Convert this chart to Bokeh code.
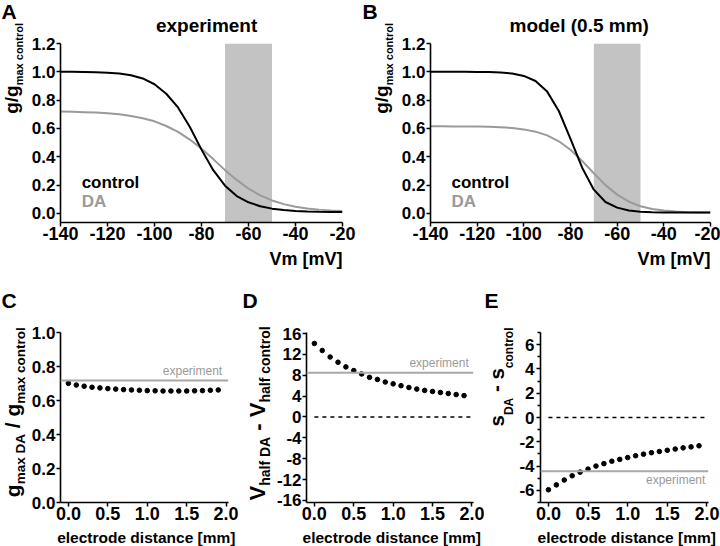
import math
from bokeh.plotting import figure
from bokeh.layouts import column, row
from bokeh.models import Label, Span, BoxAnnotation, Range1d, FixedTicker, NumeralTickFormatter
from bokeh.embed import file_html
from bokeh.resources import INLINE

FONT = "Liberation Sans"

# ---------------- data ----------------
vm = [-140, -135, -130, -125, -120, -115, -110, -105, -100, -95, -90, -85, -80,
      -75, -70, -65, -60, -55, -50, -45, -40, -35, -30, -25, -20]
a_control = [1.000, 1.000, 0.999, 0.997, 0.994, 0.988, 0.976, 0.953, 0.912, 0.845, 0.748, 0.612, 0.450,
             0.305, 0.195, 0.122, 0.078, 0.050, 0.033, 0.023, 0.017, 0.013, 0.011, 0.010, 0.009]
a_da = [0.720, 0.718, 0.715, 0.712, 0.707, 0.700, 0.688, 0.672, 0.650, 0.617, 0.576, 0.521, 0.457,
        0.383, 0.305, 0.236, 0.174, 0.127, 0.091, 0.065, 0.047, 0.034, 0.026, 0.020, 0.016]
b_control = [1.000, 1.000, 1.000, 1.000, 0.999, 0.998, 0.995, 0.988, 0.971, 0.935, 0.860, 0.723, 0.526,
             0.322, 0.167, 0.080, 0.040, 0.020, 0.011, 0.008, 0.006, 0.005, 0.005, 0.005, 0.005]
b_da = [0.615, 0.615, 0.614, 0.614, 0.613, 0.611, 0.608, 0.603, 0.593, 0.577, 0.551, 0.509, 0.449,
        0.370, 0.283, 0.199, 0.132, 0.082, 0.050, 0.031, 0.019, 0.012, 0.008, 0.006, 0.005]
band_vm = [-70, -50]

dist = [0.0, 0.1, 0.2, 0.3, 0.4, 0.5, 0.6, 0.7, 0.8, 0.9,
        1.0, 1.1, 1.2, 1.3, 1.4, 1.5, 1.6, 1.7, 1.8, 1.9]
c_gmax_ratio = [0.701, 0.691, 0.684, 0.678, 0.674, 0.670, 0.667, 0.664, 0.662, 0.660,
                0.658, 0.657, 0.656, 0.656, 0.656, 0.656, 0.657, 0.658, 0.660, 0.662]
d_vhalf_diff = [14.1, 12.75, 11.5, 10.5, 9.6, 8.9, 8.25, 7.6, 7.2, 6.7,
                6.35, 6.0, 5.65, 5.35, 5.1, 4.9, 4.7, 4.5, 4.3, 4.1]
e_slope_diff = [-5.95, -5.55, -5.15, -4.8, -4.5, -4.25, -4.0, -3.8, -3.6, -3.45,
                -3.3, -3.15, -3.02, -2.9, -2.8, -2.7, -2.6, -2.5, -2.42, -2.33]
exp_gmax = 0.717
exp_vhalf = 8.5
exp_slope = -4.43
zero_x = [0.0, 2.0]
zero_y = [0.0, 0.0]

ticks_vm = [-140, -120, -100, -80, -60, -40, -20]
ticks_g = [0.0, 0.2, 0.4, 0.6, 0.8, 1.0, 1.2]
ticks_dist = [0.0, 0.5, 1.0, 1.5, 2.0]
ticks_c = [0.0, 0.2, 0.4, 0.6, 0.8, 1.0]
ticks_d = [-16, -12, -8, -4, 0, 4, 8, 12, 16]
ticks_e = [-6, -4, -2, 0, 2, 4, 6]
minor_e = [-7, -5, -3, -1, 1, 3, 5, 7]

GRAY_LINE = "#9a9a9a"
GRAY_TEXT = "#9a9a9a"
BAND = "#c3c3c3"
EXP_LINE = "#a8a8a8"

MID = 0.3465  # distance (in em) from the text-box middle down to the alphabetic baseline

# Arial/Liberation Sans Bold advance widths (1/1000 em)
AW = {' ': 278, '(': 333, ')': 333, '-': 333, '.': 278, '/': 278, 'A': 722, 'D': 722,
      'V': 667, 'a': 556, 'c': 556, 'f': 333, 'g': 611, 'h': 611, 'l': 278, 'm': 889,
      'n': 611, 'o': 611, 'r': 389, 's': 556, 't': 333, 'x': 556}


def tw(s, px):
    return sum(AW[c] for c in s) / 1000.0 * px


def base_fig(**kw):
    p = figure(output_backend="svg", toolbar_location=None, tools="", **kw)
    p.outline_line_color = None
    p.border_fill_color = "white"
    p.background_fill_color = "white"
    p.title.visible = False
    return p


def data_fig(w, h, left, right, top, bottom, xr, yr):
    p = base_fig(width=w, height=h, x_range=Range1d(*xr), y_range=Range1d(*yr),
                 min_border_left=left, min_border_right=right,
                 min_border_top=top, min_border_bottom=bottom)
    p.grid.visible = False
    return p


def aux_fig(w, h):
    # text-only canvas: data units = pixels, y measured from the top
    return base_fig(width=w, height=h, x_range=Range1d(0, w), y_range=Range1d(h, 0),
                    x_axis_type=None, y_axis_type=None, min_border=0)


def style_axes(p, xticks, yticks, xfmt, yfmt, yminor=None, ystand=1, xstand=0):
    p.xaxis.ticker = FixedTicker(ticks=xticks)
    p.yaxis.ticker = FixedTicker(ticks=yticks, minor_ticks=yminor or [])
    p.xaxis.formatter = NumeralTickFormatter(format=xfmt)
    p.yaxis.formatter = NumeralTickFormatter(format=yfmt)
    for ax in (p.xaxis[0], p.yaxis[0]):
        ax.axis_line_width = 1.6
        ax.axis_line_color = "black"
        ax.major_tick_line_width = 1.5
        ax.major_tick_line_color = "black"
        ax.major_tick_out = 4
        ax.major_tick_in = 0
        ax.minor_tick_line_width = 1.3
        ax.minor_tick_line_color = "black"
        ax.minor_tick_out = 3
        ax.minor_tick_in = 0
        ax.major_label_text_font = FONT
        ax.major_label_text_font_style = "bold"
        ax.major_label_text_color = "black"
    p.xaxis[0].major_label_text_font_size = "18px"
    p.yaxis[0].major_label_text_font_size = "17px"
    p.xaxis[0].major_label_standoff = xstand
    p.yaxis[0].major_label_standoff = ystand


def _label(p, x, y, text, size, color, align, bold, angle, xo=0, yo=0):
    p.add_layout(Label(x=x, y=y, text=text, text_font=FONT,
                       text_font_style="bold" if bold else "normal",
                       text_font_size=f"{size}px", text_color=color, text_align=align,
                       text_baseline="middle", x_offset=xo, y_offset=yo, angle=angle))


def atext(p, x, base_y, text, size, color="black", align="left", bold=True):
    """horizontal text in an aux canvas; base_y = baseline pixel (from top)"""
    _label(p, x, base_y - MID * size, text, size, color, align, bold, 0)


def dtext(p, x, y, text, size, color="black", align="left", bold=True, yo=0):
    """horizontal text in a data plot; baseline at data y (+ yo px upward)"""
    _label(p, x, y, text, size, color, align, bold, 0, yo=yo + MID * size)


def rot_label(p, bx_main, bx_sub, y_start, pieces, main, sub):
    """vertical (bottom-to-top) label with subscripts; bx = baseline x pixel"""
    pos = y_start
    for txt, kind in pieces:
        size = main if kind == "m" else sub
        bx = bx_main if kind == "m" else bx_sub
        if txt.strip():
            _label(p, bx - MID * size, pos, txt, size, "black", "left", True, math.pi / 2)
        pos -= tw(txt, size)


# ---------------- top row (height 290) ----------------
def iv_column(colw, ylab_w, data_left, frame_w, data_right, control, da, title,
              letter, letter_x, title_cx, main_bx, sub_bx):
    # title_cx, letter_x, main_bx, sub_bx are measured from the column's left edge
    ylab = aux_fig(ylab_w, 248)
    atext(ylab, letter_x, 18, letter, 21)
    rot_label(ylab, main_bx, sub_bx, 113.3, [("g/g", "m"), ("max control", "s")], 19, 11)

    w2 = colw - ylab_w
    top = aux_fig(w2, 36)
    atext(top, title_cx - ylab_w, 32, title, 19, align="center")

    p = data_fig(w2, 212, data_left, data_right, 7, 26, (-140, -20), (-0.065, 1.2))
    p.add_layout(BoxAnnotation(left=band_vm[0], right=band_vm[1], fill_color=BAND,
                               fill_alpha=1.0, line_color=None, level="underlay"))
    p.line(vm, da, line_color=GRAY_LINE, line_width=2)
    p.line(vm, control, line_color="black", line_width=2)
    style_axes(p, ticks_vm, ticks_g, "0", "0.0")
    dtext(p, -131, 0.176, "control", 17)
    dtext(p, -131, 0.042, "DA", 17, color=GRAY_TEXT)

    bot = aux_fig(colw, 42)
    atext(bot, ylab_w + data_left + frame_w, 16.5, "Vm [mV]", 18, align="right")
    return column(row(ylab, column(top, p)), bot)


colA = iv_column(360, 28, 30, 284, 18, a_control, a_da, "experiment", "A", 1, 200, 17.5, 22)
colB = iv_column(360, 38, 30, 282, 10, b_control, b_da, "model (0.5 mm)", "B", 2, 209, 27.5, 32)


# ---------------- bottom row (height 256) ----------------
def dist_column(colw, ylab_w, data_left, data_right, xr, yr, letter, letter_x):
    frame_w = 170
    ylab = aux_fig(ylab_w, 238)
    atext(ylab, letter_x, 17, letter, 21)
    w2 = colw - ylab_w
    spacer = aux_fig(w2, 34)
    p = data_fig(w2, 204, data_left, data_right, 8, 26, xr, yr)
    bot = aux_fig(colw, 18)
    cx = ylab_w + data_left + (1.0 - xr[0]) / (xr[1] - xr[0]) * frame_w
    atext(bot, cx, 14.2, "electrode distance [mm]", 15.5, align="center")
    lay = column(row(ylab, column(spacer, p)), bot)
    return ylab, p, lay


# C
cY, pC, colC = dist_column(240, 28, 30, 12, (-0.1, 2.03), (0.0, 1.0), "C", 1)
pC.add_layout(Span(location=exp_gmax, dimension="width", line_color=EXP_LINE, line_width=2))
pC.scatter(dist, c_gmax_ratio, size=4.6, color="black")
style_axes(pC, ticks_dist, ticks_c, "0.0", "0.0")
dtext(pC, 1.95, exp_gmax, "experiment", 12, color=GRAY_TEXT, align="right", bold=False, yo=5)
rot_label(cY, 19, 24.5, 206.7,
          [("g", "m"), ("max DA", "s"), (" ", "m"), ("/", "m"), (" ", "m"), ("g", "m"),
           ("max control", "s")], 21, 13.5)

# D
dY, pD, colD = dist_column(244, 33, 30, 11, (-0.1, 2.02), (-16.4, 16.2), "D", 2)
pD.add_layout(Span(location=exp_vhalf, dimension="width", line_color=EXP_LINE, line_width=2))
pD.line(zero_x, zero_y, line_color="black", line_width=1.5, line_dash="4 4")
pD.scatter(dist, d_vhalf_diff, size=4.6, color="black")
style_axes(pD, ticks_dist, ticks_d, "0.0", "0", ystand=1)
dtext(pD, 1.96, exp_vhalf, "experiment", 12, color=GRAY_TEXT, align="right", bold=False, yo=5)
rot_label(dY, 24.5, 29.5, 210,
          [("V", "m"), ("half DA", "s"), (" ", "m"), ("-", "m"), (" ", "m"), ("V", "m"),
           ("half control", "s")], 22, 14)

# E
eY, pE, colE = dist_column(236, 32, 22, 12, (-0.1, 2.02), (-7, 7), "E", 0)
pE.add_layout(Span(location=exp_slope, dimension="width", line_color=EXP_LINE, line_width=2))
pE.line(zero_x, zero_y, line_color="black", line_width=1.5, line_dash="4 4")
pE.scatter(dist, e_slope_diff, size=4.6, color="black")
style_axes(pE, ticks_dist, ticks_e, "0.0", "0", yminor=minor_e, ystand=2)
dtext(pE, 1.98, exp_slope, "experiment", 12, color=GRAY_TEXT, align="right", bold=False, yo=-13)
rot_label(eY, 19, 29, 136,
          [("s", "m"), ("DA", "s"), (" ", "m"), ("-", "m"), (" ", "m"), ("s", "m"),
           ("control", "s")], 20.5, 12)

layout = column(row(colA, colB), row(colC, colD, colE))

with open("out.html", "w") as f:
    f.write(file_html(layout, INLINE))
